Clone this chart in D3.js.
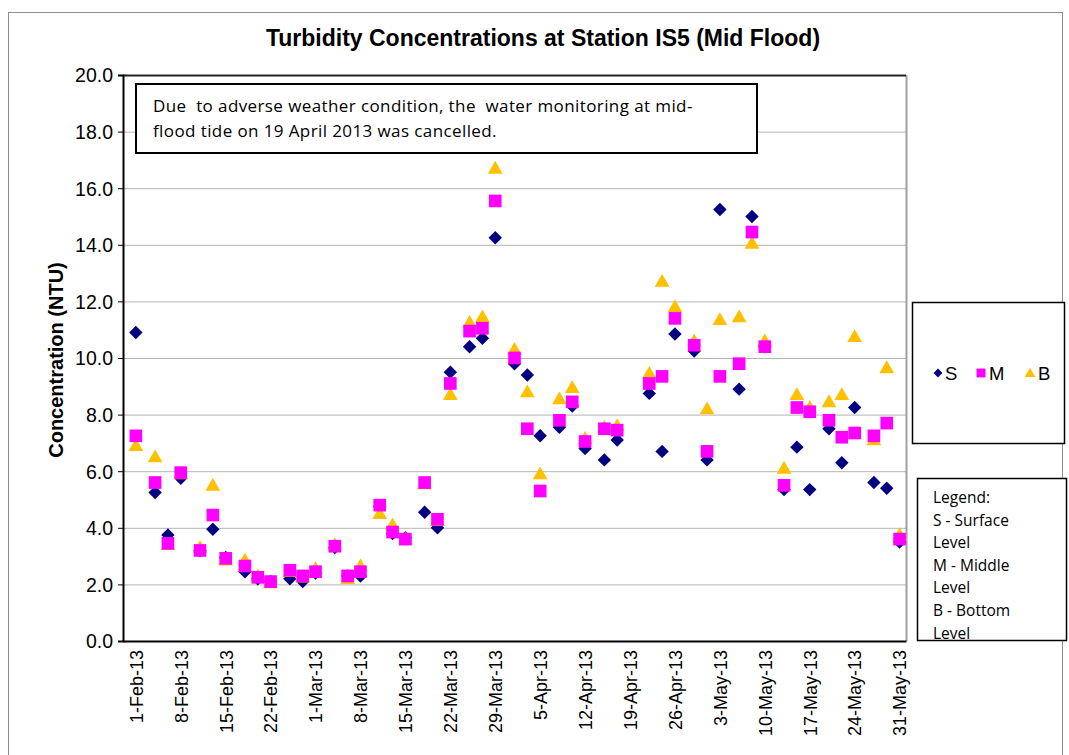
<!DOCTYPE html>
<html>
<head>
<meta charset="utf-8">
<script src="https://cdn.jsdelivr.net/npm/d3@7"></script>
<style>
  body { margin: 0; background: #fff; }
  text { font-family: "Liberation Sans", Arial, sans-serif; }
  .note { font-family: "Open Sans", "Liberation Sans", sans-serif; white-space: pre; }
</style>
</head>
<body>
<div id="chart"></div>
<script>
// sampling days (mid flood), 19 Apr cancelled
const sampleDates = [
  "2013-02-01", "2013-02-04", "2013-02-06", "2013-02-08", "2013-02-11", "2013-02-13",
  "2013-02-15", "2013-02-18", "2013-02-20", "2013-02-22", "2013-02-25", "2013-02-27",
  "2013-03-01", "2013-03-04", "2013-03-06", "2013-03-08", "2013-03-11", "2013-03-13",
  "2013-03-15", "2013-03-18", "2013-03-20", "2013-03-22", "2013-03-25", "2013-03-27",
  "2013-03-29", "2013-04-01", "2013-04-03", "2013-04-05", "2013-04-08", "2013-04-10",
  "2013-04-12", "2013-04-15", "2013-04-17", "2013-04-22", "2013-04-24", "2013-04-26",
  "2013-04-29", "2013-05-01", "2013-05-03", "2013-05-06", "2013-05-08", "2013-05-10",
  "2013-05-13", "2013-05-15", "2013-05-17", "2013-05-20", "2013-05-22", "2013-05-24",
  "2013-05-27", "2013-05-29", "2013-05-31"
];

const surface = [
  10.9, 5.25, 3.75, 5.75, 3.2, 3.95, 2.95, 2.45, 2.2, 2.1, 2.2, 2.1,
  2.4, 3.3, 2.3, 2.3, 4.75, 3.8, 3.65, 4.55, 4.0, 9.5, 10.4, 10.7,
  14.25, 9.8, 9.4, 7.25, 7.55, 8.3, 6.8, 6.4, 7.1, 8.75, 6.7, 10.85,
  10.25, 6.4, 15.25, 8.9, 15.0, 10.4, 5.35, 6.85, 5.35, 7.5, 6.3, 8.25,
  5.6, 5.4, 3.5
];
const middle = [
  7.25, 5.6, 3.45, 5.95, 3.2, 4.45, 2.92, 2.65, 2.25, 2.1, 2.5, 2.3,
  2.45, 3.35, 2.3, 2.45, 4.8, 3.85, 3.6, 5.6, 4.3, 9.1, 10.95, 11.05,
  15.55, 10.0, 7.5, 5.3, 7.8, 8.45, 7.05, 7.5, 7.45, 9.1, 9.35, 11.4,
  10.45, 6.7, 9.35, 9.8, 14.45, 10.4, 5.5, 8.25, 8.1, 7.8, 7.2, 7.35,
  7.25, 7.7, 3.6
];
const bottom = [
  6.9, 6.5, 3.4, 5.9, 3.3, 5.5, 2.85, 2.85, 2.3, 2.05, 2.45, 2.25,
  2.55, 3.4, 2.2, 2.65, 4.5, 4.1, 3.6, 5.55, 4.25, 8.7, 11.25, 11.45,
  16.7, 10.3, 8.8, 5.9, 8.55, 8.95, 7.15, 7.55, 7.6, 9.45, 12.7, 11.8,
  10.6, 8.2, 11.35, 11.45, 14.05, 10.6, 6.1, 8.7, 8.25, 8.45, 8.7, 10.75,
  7.1, 9.65, 3.75
];

const xTickLabels = [
  "1-Feb-13", "8-Feb-13", "15-Feb-13", "22-Feb-13", "1-Mar-13", "8-Mar-13",
  "15-Mar-13", "22-Mar-13", "29-Mar-13", "5-Apr-13", "12-Apr-13", "19-Apr-13",
  "26-Apr-13", "3-May-13", "10-May-13", "17-May-13", "24-May-13", "31-May-13"
];
const yTicks = [0, 2, 4, 6, 8, 10, 12, 14, 16, 18, 20];

const noteLines = [
  "Due  to adverse weather condition, the  water monitoring at mid-",
  "flood tide on 19 April 2013 was cancelled."
];
const legendLines = ["Legend:", "S - Surface", "Level", "M - Middle", "Level", "B - Bottom", "Level"];

const W = 1069, H = 755;
const parseDay = d3.timeParse("%Y-%m-%d");
const parseTick = d3.timeParse("%d-%b-%y");

const svg = d3.select("#chart").append("svg")
  .attr("width", W).attr("height", H);

// outer chart frame
svg.append("rect")
  .attr("x", 8.5).attr("y", 12.5).attr("width", 1054).attr("height", 800)
  .attr("fill", "none").attr("stroke", "#8c8c8c");

const plot = { left: 123, right: 906, top: 75, bottom: 641 };

const x = d3.scaleTime()
  .domain([new Date(2013, 0, 30), new Date(2013, 5, 1)])
  .range([plot.left, plot.right]);
const y = d3.scaleLinear().domain([0, 20]).range([plot.bottom, plot.top]);

// title
svg.append("text")
  .attr("x", 543).attr("y", 46)
  .attr("text-anchor", "middle")
  .attr("font-size", 23).attr("font-weight", "bold")
  .text("Turbidity Concentrations at Station IS5 (Mid Flood)");

// gridlines
svg.append("g")
  .selectAll("line")
  .data(yTicks.filter(d => d > 0 && d < 20))
  .enter().append("line")
  .attr("x1", plot.left).attr("x2", plot.right)
  .attr("y1", d => y(d) + 0.5).attr("y2", d => y(d) + 0.5)
  .attr("stroke", "#b4b4b4");

// plot border
svg.append("line")
  .attr("x1", plot.right + 0.5).attr("x2", plot.right + 0.5)
  .attr("y1", plot.top).attr("y2", plot.bottom)
  .attr("stroke", "#a0a0a0").attr("stroke-width", 2);
svg.append("line")
  .attr("x1", plot.left).attr("x2", plot.right)
  .attr("y1", plot.top + 0.5).attr("y2", plot.top + 0.5)
  .attr("stroke", "#222").attr("stroke-width", 2);

// y axis
const yAxis = d3.axisLeft(y).tickValues(yTicks).tickFormat(d3.format(".1f")).tickSize(5);
const gy = svg.append("g").attr("transform", `translate(${plot.left},0)`).call(yAxis);
gy.select(".domain").attr("stroke", "#000").attr("stroke-width", 2);
gy.selectAll(".tick line").attr("stroke", "#000");
gy.selectAll(".tick text")
  .attr("font-size", 19.5).attr("fill", "#000")
  .attr("font-family", "Liberation Sans, Arial, sans-serif")
  .attr("x", -10).attr("dy", "0.35em");

// x axis
const xAxis = d3.axisBottom(x)
  .tickValues(xTickLabels.map(parseTick))
  .tickFormat((d, i) => xTickLabels[i])
  .tickSize(0);
const gx = svg.append("g").attr("transform", `translate(0,${plot.bottom})`).call(xAxis);
gx.select(".domain").attr("stroke", "#000").attr("stroke-width", 2);
gx.selectAll(".tick text")
  .attr("font-size", 18).attr("fill", "#000")
  .attr("font-family", "Liberation Sans, Arial, sans-serif")
  .attr("transform", "rotate(-90)")
  .attr("text-anchor", "end")
  .attr("x", -9).attr("y", 0).attr("dy", "0.35em");

// y axis title
svg.append("text")
  .attr("transform", `translate(63,360) rotate(-90)`)
  .attr("text-anchor", "middle")
  .attr("font-size", 20).attr("font-weight", "bold")
  .text("Concentration (NTU)");

// markers
const sym = {
  S: d3.symbol().type(d3.symbolDiamond2).size(115),
  M: d3.symbol().type(d3.symbolSquare).size(160),
  B: d3.symbol().type(d3.symbolTriangle).size(95)
};
const colors = { S: "#000080", M: "#ff00ff", B: "#ffc000" };
const series = [
  { key: "S", values: surface },
  { key: "B", values: bottom },
  { key: "M", values: middle }
];

series.forEach(s => {
  svg.append("g")
    .selectAll("path")
    .data(s.values)
    .enter().append("path")
    .attr("d", sym[s.key])
    .attr("transform", (d, i) => `translate(${x(parseDay(sampleDates[i]))},${y(d) + (s.key === "B" ? 1 : 0)})`)
    .attr("fill", colors[s.key]);
});

// note box
svg.append("rect")
  .attr("x", 136).attr("y", 84).attr("width", 621).attr("height", 69)
  .attr("fill", "#fff").attr("stroke", "#000").attr("stroke-width", 2);
svg.append("g").selectAll("text")
  .data(noteLines)
  .enter().append("text")
  .attr("class", "note")
  .attr("xml:space", "preserve")
  .attr("x", 153).attr("y", (d, i) => 112 + i * 25)
  .attr("font-size", 17)
  .attr("letter-spacing", 0.4)
  .text(d => d);

// legend box
svg.append("rect")
  .attr("x", 912.5).attr("y", 302.5).attr("width", 152).attr("height", 141)
  .attr("fill", "#fff").attr("stroke", "#000").attr("stroke-width", 1.5);
const legendItems = [
  { key: "S", sx: 938, tx: 945 },
  { key: "M", sx: 981, tx: 989 },
  { key: "B", sx: 1030, tx: 1038 }
];
const lg = svg.append("g").selectAll("g").data(legendItems).enter().append("g");
lg.append("path")
  .attr("d", d => d3.symbol().type(d.key === "S" ? d3.symbolDiamond2 : d.key === "M" ? d3.symbolSquare : d3.symbolTriangle)
    .size(d.key === "S" ? 50 : d.key === "M" ? 80 : 50)())
  .attr("transform", d => `translate(${d.sx},${d.key === "B" ? 374 : 373})`)
  .attr("fill", d => colors[d.key]);
lg.append("text")
  .attr("x", d => d.tx).attr("y", 380)
  .attr("font-size", 18.5)
  .text(d => d.key);

// explanation box
svg.append("rect")
  .attr("x", 917.5).attr("y", 478.5).attr("width", 149).attr("height", 162)
  .attr("fill", "#fff").attr("stroke", "#000").attr("stroke-width", 1.5);
svg.append("defs").append("clipPath").attr("id", "lgclip")
  .append("rect").attr("x", 918).attr("y", 479).attr("width", 148).attr("height", 161);
svg.append("g").attr("clip-path", "url(#lgclip)")
  .selectAll("text")
  .data(legendLines)
  .enter().append("text")
  .attr("class", "note")
  .attr("x", 933).attr("y", (d, i) => 503 + i * 22.6)
  .attr("font-size", 15.5)
  .text(d => d);
</script>
</body>
</html>
